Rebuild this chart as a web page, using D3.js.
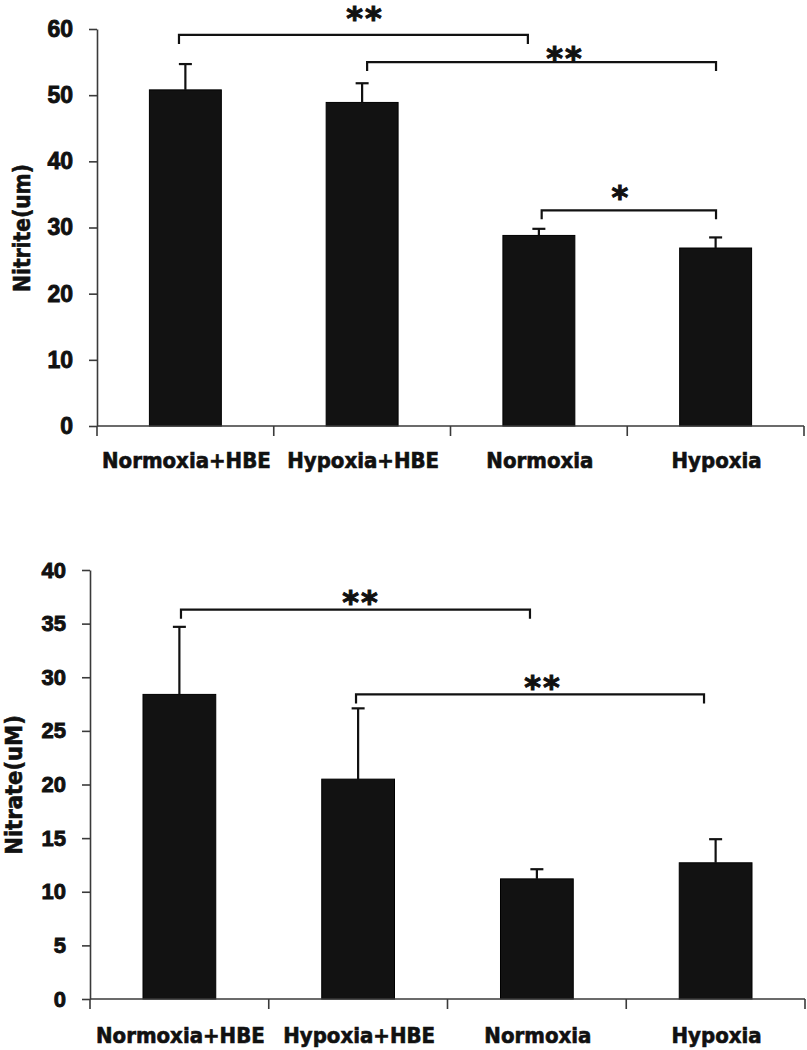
<!DOCTYPE html>
<html>
<head>
<meta charset="utf-8">
<script src="https://cdn.jsdelivr.net/npm/d3@7"></script>
<style>
  html, body { margin: 0; padding: 0; background: #fff; }
  svg { display: block; }
</style>
</head>
<body>
<svg id="chart" width="807" height="1050"></svg>
<script>
// ---------------- DATA ----------------
const categories = ["Normoxia+HBE", "Hypoxia+HBE", "Normoxia", "Hypoxia"];

const nitriteMean = [50.8, 48.9, 28.8, 26.9];
const nitriteErr  = [3.9, 2.9, 1.0, 1.6];
const nitriteTicks = [0, 10, 20, 30, 40, 50, 60];
const nitriteLabel = "Nitrite(um)";
const nitriteSig = [
  { from: 0, to: 2, level: 59.1, label: "**" },
  { from: 1, to: 3, level: 55.0, label: "**" },
  { from: 2, to: 3, level: 32.6, label: "*" }
];

const nitrateMean = [28.4, 20.5, 11.2, 12.7];
const nitrateErr  = [6.3, 6.6, 0.9, 2.2];
const nitrateTicks = [0, 5, 10, 15, 20, 25, 30, 35, 40];
const nitrateLabel = "Nitrate(uM)";
const nitrateSig = [
  { from: 0, to: 2, level: 36.3, label: "**" },
  { from: 1, to: 3, level: 28.4, label: "**" }
];

// ---------------- LAYOUT ----------------
const panels = [
  {
    mean: nitriteMean, err: nitriteErr, ticks: nitriteTicks, label: nitriteLabel, sig: nitriteSig,
    xRange: [97, 804], yRange: [426, 29], yMax: 60,
    ylabX: 22, ylabY: 228, ylabSize: 22.5, catBase: 468, tickSize: 23,
    nudges: [ {l: -6.4, r: -11, sx: 11.5, sy: 24}, {l: 5, r: 0.4, sx: 23.5, sy: 11}, {l: 2.8, r: 0.4, sx: -8, sy: 20} ]
  },
  {
    mean: nitrateMean, err: nitrateErr, ticks: nitrateTicks, label: nitrateLabel, sig: nitrateSig,
    xRange: [90, 805], yRange: [999, 570], yMax: 40,
    ylabX: 14, ylabY: 785, ylabSize: 23.5, catBase: 1043, tickSize: 22,
    nudges: [ {l: 1.6, r: -6.9, sx: 5.5, sy: 14.5}, {l: -2.1, r: -11.6, sx: 13, sy: 14.5} ]
  }
];

const svg = d3.select("#chart");
svg.append("rect").attr("width", 807).attr("height", 1050).attr("fill", "#fff");

const axisColor = "#3a3a3a";
const condensed = "'DejaVu Sans Condensed', 'DejaVu Sans', sans-serif";

panels.forEach(p => {
  const g = svg.append("g");
  const pad = 0.593;
  const x = d3.scaleBand().domain(categories).range(p.xRange).paddingInner(pad).paddingOuter(pad / 2);
  const y = d3.scaleLinear().domain([0, p.yMax]).range(p.yRange);
  const bw = x.bandwidth();
  const step = x.step();
  const cx = i => x(categories[i]) + bw / 2;

  // bars
  g.selectAll("rect.bar").data(p.mean).join("rect")
    .attr("class", "bar")
    .attr("x", (d, i) => x(categories[i]))
    .attr("y", d => y(d))
    .attr("width", bw)
    .attr("height", d => y(0) - y(d))
    .attr("fill", "#121212")
    .attr("stroke", "#000").attr("stroke-width", 1);

  // error bars (upper only)
  const eg = g.append("g").attr("stroke", "#111").attr("stroke-width", 2.2);
  p.mean.forEach((m, i) => {
    eg.append("line").attr("x1", cx(i)).attr("x2", cx(i)).attr("y1", y(m)).attr("y2", y(m + p.err[i]));
    eg.append("line").attr("x1", cx(i) - 6.5).attr("x2", cx(i) + 6.5).attr("y1", y(m + p.err[i])).attr("y2", y(m + p.err[i]));
  });

  // y axis
  const yAxis = d3.axisLeft(y).tickValues(p.ticks).tickFormat(d3.format("d")).tickSize(8).tickSizeOuter(0).tickPadding(16);
  const ya = g.append("g").attr("transform", `translate(${p.xRange[0]},0)`).call(yAxis);
  ya.select(".domain").attr("stroke", axisColor).attr("stroke-width", 1.6);
  ya.selectAll(".tick line").attr("stroke", axisColor).attr("stroke-width", 1.6);
  ya.selectAll(".tick text")
    .attr("font-family", "'Liberation Sans', Arial, sans-serif")
    .attr("font-weight", "bold").attr("font-size", p.tickSize).attr("fill", "#111")
    .attr("stroke", "#111").attr("stroke-width", 0.9);

  // x axis line and boundary ticks
  const xa = g.append("g").attr("stroke", axisColor).attr("stroke-width", 1.6);
  xa.append("line").attr("x1", p.xRange[0]).attr("x2", p.xRange[1]).attr("y1", y(0)).attr("y2", y(0));
  const bounds = [p.xRange[0]].concat(categories.map(c => x(c) + bw + (step - bw) / 2));
  bounds.forEach(b => {
    xa.append("line").attr("x1", b).attr("x2", b).attr("y1", y(0)).attr("y2", y(0) + 10);
  });

  // category labels
  g.selectAll("text.cat").data(categories).join("text")
    .attr("class", "cat")
    .attr("x", d => x(d) + bw / 2 + 1)
    .attr("y", p.catBase)
    .attr("text-anchor", "middle")
    .attr("font-family", condensed)
    .attr("font-stretch", "condensed")
    .attr("font-weight", "bold").attr("font-size", 22).attr("fill", "#111")
    .attr("stroke", "#111").attr("stroke-width", 0.6)
    .text(d => d);

  // y label
  g.append("text")
    .attr("transform", `translate(${p.ylabX},${p.ylabY}) rotate(-90)`)
    .attr("text-anchor", "middle").attr("dominant-baseline", "central")
    .attr("font-family", condensed).attr("font-stretch", "condensed")
    .attr("font-weight", "bold").attr("font-size", p.ylabSize).attr("fill", "#111")
    .attr("stroke", "#111").attr("stroke-width", 0.6)
    .text(p.label);

  // significance brackets
  p.sig.forEach((s, k) => {
    const n = p.nudges[k];
    const x1 = cx(s.from) + n.l, x2 = cx(s.to) + n.r, yy = y(s.level);
    g.append("path")
      .attr("d", `M${x1},${yy + 9}V${yy}H${x2}V${yy + 9}`)
      .attr("fill", "none").attr("stroke", "#111").attr("stroke-width", 2.2);
    g.append("text")
      .attr("x", (x1 + x2) / 2 + n.sx)
      .attr("y", yy - n.sy + 18)
      .attr("text-anchor", "middle")
      .attr("font-family", "'DejaVu Sans', sans-serif")
      .attr("font-weight", "bold").attr("font-size", 32).attr("letter-spacing", 2)
      .attr("fill", "#111").attr("stroke", "#111").attr("stroke-width", 1)
      .text(s.label);
  });
});
</script>
</body>
</html>
